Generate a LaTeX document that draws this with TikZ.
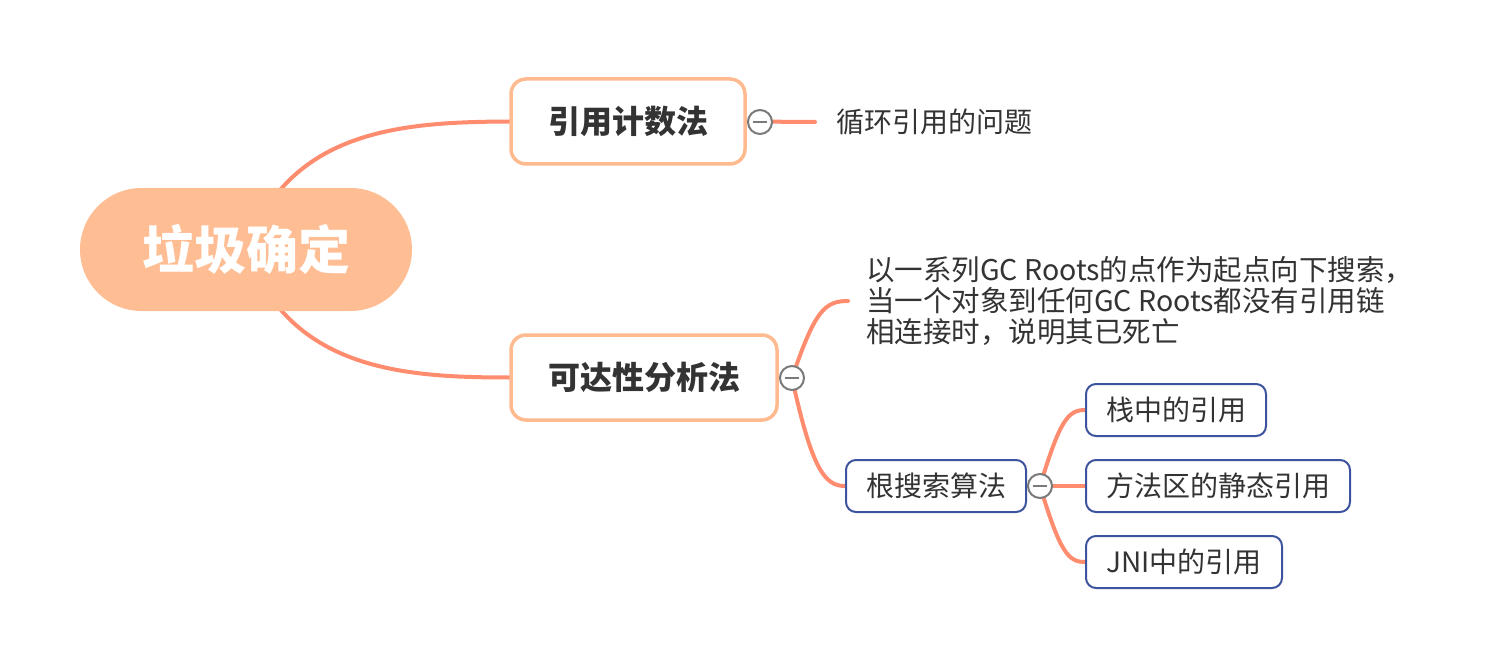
\documentclass[tikz,border=0pt]{standalone}
\usepackage{fontspec}
\setmainfont{Noto Sans CJK SC}
\usetikzlibrary{backgrounds}
\definecolor{peach}{HTML}{FFBD93}
\definecolor{peachline}{HTML}{FFBA8F}
\definecolor{salmon}{HTML}{FF8C6E}
\definecolor{navy}{HTML}{3E539E}
\definecolor{txt}{HTML}{333333}
\definecolor{markgray}{HTML}{7A7A7A}
\tikzset{
  conn/.style={draw=salmon, line width=4pt, line cap=round},
  rootbox/.style={fill=peach, draw=none, minimum width=332pt, minimum height=123pt, rounded corners=61.5pt, text=white, font=\fontsize{52}{60}\selectfont\bfseries, inner sep=0pt},
  mainbox/.style={fill=white, draw=peachline, line width=3.5pt, minimum height=85pt, rounded corners=15pt, text=txt, font=\fontsize{32}{36}\selectfont\bfseries, inner sep=0pt},
  subbox/.style={fill=white, draw=navy, line width=2pt, minimum height=52pt, rounded corners=10pt, text=txt, font=\fontsize{28}{32}\selectfont, inner sep=0pt},
  leaftext/.style={text=txt, font=\fontsize{28}{31}\selectfont, inner ysep=0pt, anchor=west, align=left},
  markerc/.style={circle, draw=markgray, fill=white, line width=2pt, minimum size=24pt, inner sep=0pt,
    path picture={\draw[markgray, line width=2pt] ([xshift=-7pt]path picture bounding box.center) -- ([xshift=7pt]path picture bounding box.center);}},
}
\begin{document}
\begin{tikzpicture}[x=1pt,y=-1pt]
\useasboundingbox (0,0) rectangle (1504,668);
% nodes
\node[rootbox] (root) at (246,249.5) {垃圾确定};
\node[mainbox, minimum width=234pt] (a) at (628,121.5) {引用计数法};
\node[mainbox, minimum width=266pt] (b) at (644,377.5) {可达性分析法};
\node[leaftext, inner xsep=21pt] (a1) at (815,122) {循环引用的问题};
\node[leaftext, inner xsep=18pt, font=\fontsize{28.5}{31}\selectfont] (b1) at (848,301) {以一系列GC Roots的点作为起点向下搜索，\\当一个对象到任何GC Roots都没有引用链\\相连接时，说明其已死亡};
\node[subbox, minimum width=180pt] (b2) at (936,486) {根搜索算法};
\node[subbox, minimum width=180pt] (c1) at (1176,410) {栈中的引用};
\node[subbox, minimum width=264pt] (c2) at (1218,486) {方法区的静态引用};
\node[subbox, minimum width=196pt] (c3) at (1184,562) {JNI中的引用};
\node[markerc] (ma) at (760,122) {};
\node[markerc] (mb) at (792,378) {};
\node[markerc] (mc) at (1040,486) {};
% connectors
\begin{pgfonlayer}{background}
\draw[conn] (root.center) .. controls (290,130) and (400,122) .. (a.west);
\draw[conn] (root.center) .. controls (290,369) and (400,377.5) .. (b.west);
\draw[conn] (a.east) -- (a1.west);
\draw[conn] (mb.center) .. controls (815,310) and (825,301) .. (b1.west);
\draw[conn] (mb.center) .. controls (812,470) and (825,486) .. (b2.west);
\draw[conn] (b.east) -- (mb.center);
\draw[conn] (b2.east) -- (mc.center);
\draw[conn] (mc.center) .. controls (1060,420) and (1068,410) .. (c1.west);
\draw[conn] (mc.center) -- (c2.west);
\draw[conn] (mc.center) .. controls (1060,552) and (1068,562) .. (c3.west);
\end{pgfonlayer}
\end{tikzpicture}
\end{document}
